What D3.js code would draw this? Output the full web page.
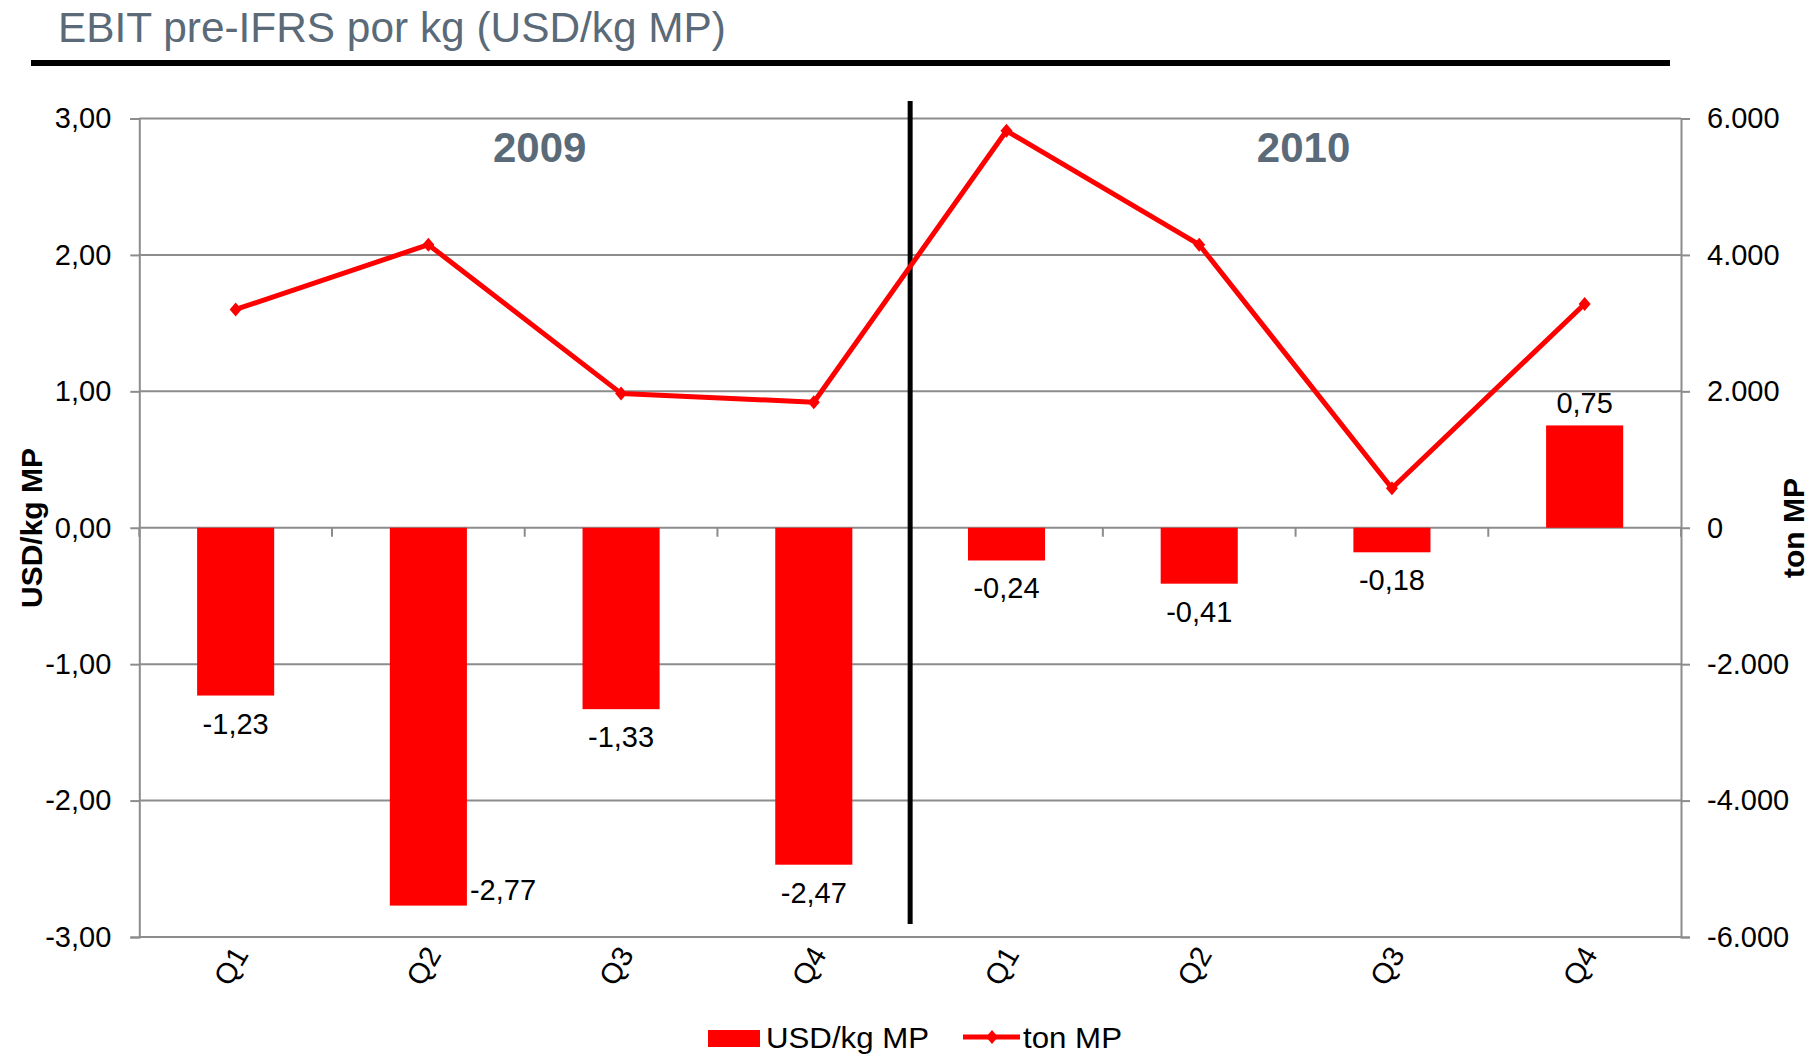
<!DOCTYPE html>
<html>
<head>
<meta charset="utf-8">
<script src="https://cdn.jsdelivr.net/npm/d3@7"></script>
<style>
  html, body { margin: 0; padding: 0; background: #fff; }
  svg { display: block; font-family: "Liberation Sans", Arial, Helvetica, sans-serif; }
</style>
</head>
<body>
<svg id="chart" width="1818" height="1058"></svg>
<script>
// ---- data ----
const titleText = "EBIT pre-IFRS por kg (USD/kg MP)";
const years = ["2009", "2010"];
const quarters = ["Q1", "Q2", "Q3", "Q4"];
const categories = ["2009-Q1","2009-Q2","2009-Q3","2009-Q4","2010-Q1","2010-Q2","2010-Q3","2010-Q4"];
const categoryLabels = ["Q1","Q2","Q3","Q4","Q1","Q2","Q3","Q4"];
const usdPerKg = [-1.23, -2.77, -1.33, -2.47, -0.24, -0.41, -0.18, 0.75];
const tonMP = [3200, 4150, 1970, 1840, 5820, 4150, 580, 3280];
const leftTicks = [3, 2, 1, 0, -1, -2, -3];
const rightTicks = [6000, 4000, 2000, 0, -2000, -4000, -6000];
const seriesNames = ["USD/kg MP", "ton MP"];
const leftAxisTitle = "USD/kg MP";
const rightAxisTitle = "ton MP";

// ---- setup ----
const svg = d3.select("#chart");
const L = 139.3, R = 1681, T = 118.5, B = 937;
const red = "#ff0000", grid = "#8c8c8c", slate = "#5a6a78";
const fontSize = 29;

const loc = d3.formatLocale({decimal: ",", thousands: ".", grouping: [3], currency: ["", ""], minus: "-"});
const fmtLeft = loc.format(".2f");
const fmtRight = loc.format(",.0f");

const x = d3.scaleBand().domain(categories).range([L, R]).paddingInner(0).paddingOuter(0);
const yL = d3.scaleLinear().domain([-3, 3]).range([B, T]);
const yR = d3.scaleLinear().domain([-6000, 6000]).range([B, T]);
const barW = x.bandwidth() * 0.4;

// title
svg.append("text").attr("x", 58).attr("y", 42).attr("fill", slate)
  .attr("font-size", 42).attr("textLength", 668).attr("lengthAdjust", "spacingAndGlyphs").text(titleText);
svg.append("rect").attr("x", 31).attr("y", 60).attr("width", 1639).attr("height", 6).attr("fill", "#000");

// gridlines
svg.append("g").selectAll("line").data(leftTicks).join("line")
  .attr("x1", L).attr("x2", R).attr("y1", d => yL(d)).attr("y2", d => yL(d))
  .attr("stroke", grid).attr("stroke-width", 2);

// left axis
const gL = svg.append("g").attr("transform", `translate(${L},0)`)
  .call(d3.axisLeft(yL).tickValues(leftTicks).tickFormat(fmtLeft).tickSize(9).tickPadding(19));
gL.select(".domain").attr("stroke", grid).attr("stroke-width", 2);
gL.selectAll(".tick line").attr("stroke", grid).attr("stroke-width", 2);
gL.selectAll(".tick text").attr("font-size", fontSize).attr("fill", "#000").attr("font-family", null);

// right axis
const gR = svg.append("g").attr("transform", `translate(${R},0)`)
  .call(d3.axisRight(yR).tickValues(rightTicks).tickFormat(fmtRight).tickSize(9).tickPadding(17));
gR.select(".domain").attr("stroke", grid).attr("stroke-width", 2);
gR.selectAll(".tick line").attr("stroke", grid).attr("stroke-width", 2);
gR.selectAll(".tick text").attr("font-size", fontSize).attr("fill", "#000").attr("font-family", null);

// category axis ticks at zero line (boundaries)
const boundaries = categories.map(c => x(c)).concat([R]);
svg.append("g").selectAll("line").data(boundaries).join("line")
  .attr("x1", d => d).attr("x2", d => d).attr("y1", yL(0)).attr("y2", yL(0) + 9)
  .attr("stroke", grid).attr("stroke-width", 2);

// bars
svg.append("g").selectAll("rect").data(usdPerKg).join("rect")
  .attr("x", (d, i) => x(categories[i]) + (x.bandwidth() - barW) / 2)
  .attr("width", barW)
  .attr("y", d => yL(Math.max(0, d)))
  .attr("height", d => Math.abs(yL(d) - yL(0)))
  .attr("fill", red);

// bar labels
svg.append("g").selectAll("text").data(usdPerKg).join("text")
  .attr("font-size", fontSize).attr("fill", "#000")
  .attr("text-anchor", (d, i) => i === 1 ? "start" : "middle")
  .attr("x", (d, i) => i === 1 ? x(categories[i]) + (x.bandwidth() + barW) / 2 + 3 : x(categories[i]) + x.bandwidth() / 2)
  .attr("y", (d, i) => i === 1 ? yL(d) - 6 : (d < 0 ? yL(d) + 38 : yL(d) - 12))
  .text(d => fmtLeft(d));

// year divider
svg.append("line").attr("x1", x(categories[4])).attr("x2", x(categories[4]))
  .attr("y1", 101).attr("y2", 924).attr("stroke", "#000").attr("stroke-width", 5);

// year labels
years.forEach((yr, k) => {
  const cx = (x(categories[k * 4 + 1]) + x(categories[k * 4 + 2]) + x.bandwidth()) / 2 + (k === 0 ? 15 : 8);
  svg.append("text").attr("x", cx).attr("y", 162).attr("text-anchor", "middle")
    .attr("font-size", 42).attr("font-weight", "bold").attr("fill", slate).text(yr);
});

// line series
const line = d3.line().x((d, i) => x(categories[i]) + x.bandwidth() / 2).y(d => yR(d));
svg.append("path").datum(tonMP).attr("d", line).attr("fill", "none")
  .attr("stroke", red).attr("stroke-width", 5).attr("stroke-linejoin", "round");
const diamond = "M0,-7L6,0L0,7L-6,0Z";
svg.append("g").selectAll("path").data(tonMP).join("path")
  .attr("d", diamond)
  .attr("transform", (d, i) => `translate(${x(categories[i]) + x.bandwidth() / 2},${yR(d)})`)
  .attr("fill", red);

// category labels
svg.append("g").selectAll("text").data(categoryLabels).join("text")
  .attr("font-size", 29).attr("fill", "#000").attr("text-anchor", "end")
  .attr("transform", (d, i) => `translate(${x(categories[i]) + x.bandwidth() / 2 - 4},${B + 7}) rotate(-60)`)
  .attr("dy", "0.7em")
  .text(d => d);

// axis titles
svg.append("text").attr("transform", `translate(42,528) rotate(-90)`).attr("text-anchor", "middle")
  .attr("font-size", 30).attr("font-weight", "bold").attr("fill", "#000").text(leftAxisTitle);
svg.append("text").attr("transform", `translate(1804,528) rotate(-90)`).attr("text-anchor", "middle")
  .attr("font-size", 30).attr("font-weight", "bold").attr("fill", "#000").text(rightAxisTitle);

// legend
const lg = svg.append("g");
lg.append("rect").attr("x", 708).attr("y", 1030).attr("width", 52).attr("height", 17).attr("fill", red);
lg.append("text").attr("x", 766).attr("y", 1048).attr("font-size", 29).attr("fill", "#000")
  .attr("textLength", 163).attr("lengthAdjust", "spacingAndGlyphs").text(seriesNames[0]);
lg.append("line").attr("x1", 963).attr("x2", 1020).attr("y1", 1037).attr("y2", 1037)
  .attr("stroke", red).attr("stroke-width", 5);
lg.append("path").attr("d", diamond).attr("transform", "translate(992,1037)").attr("fill", red);
lg.append("text").attr("x", 1023).attr("y", 1048).attr("font-size", 29).attr("fill", "#000")
  .attr("textLength", 99).attr("lengthAdjust", "spacingAndGlyphs").text(seriesNames[1]);
</script>
</body>
</html>
